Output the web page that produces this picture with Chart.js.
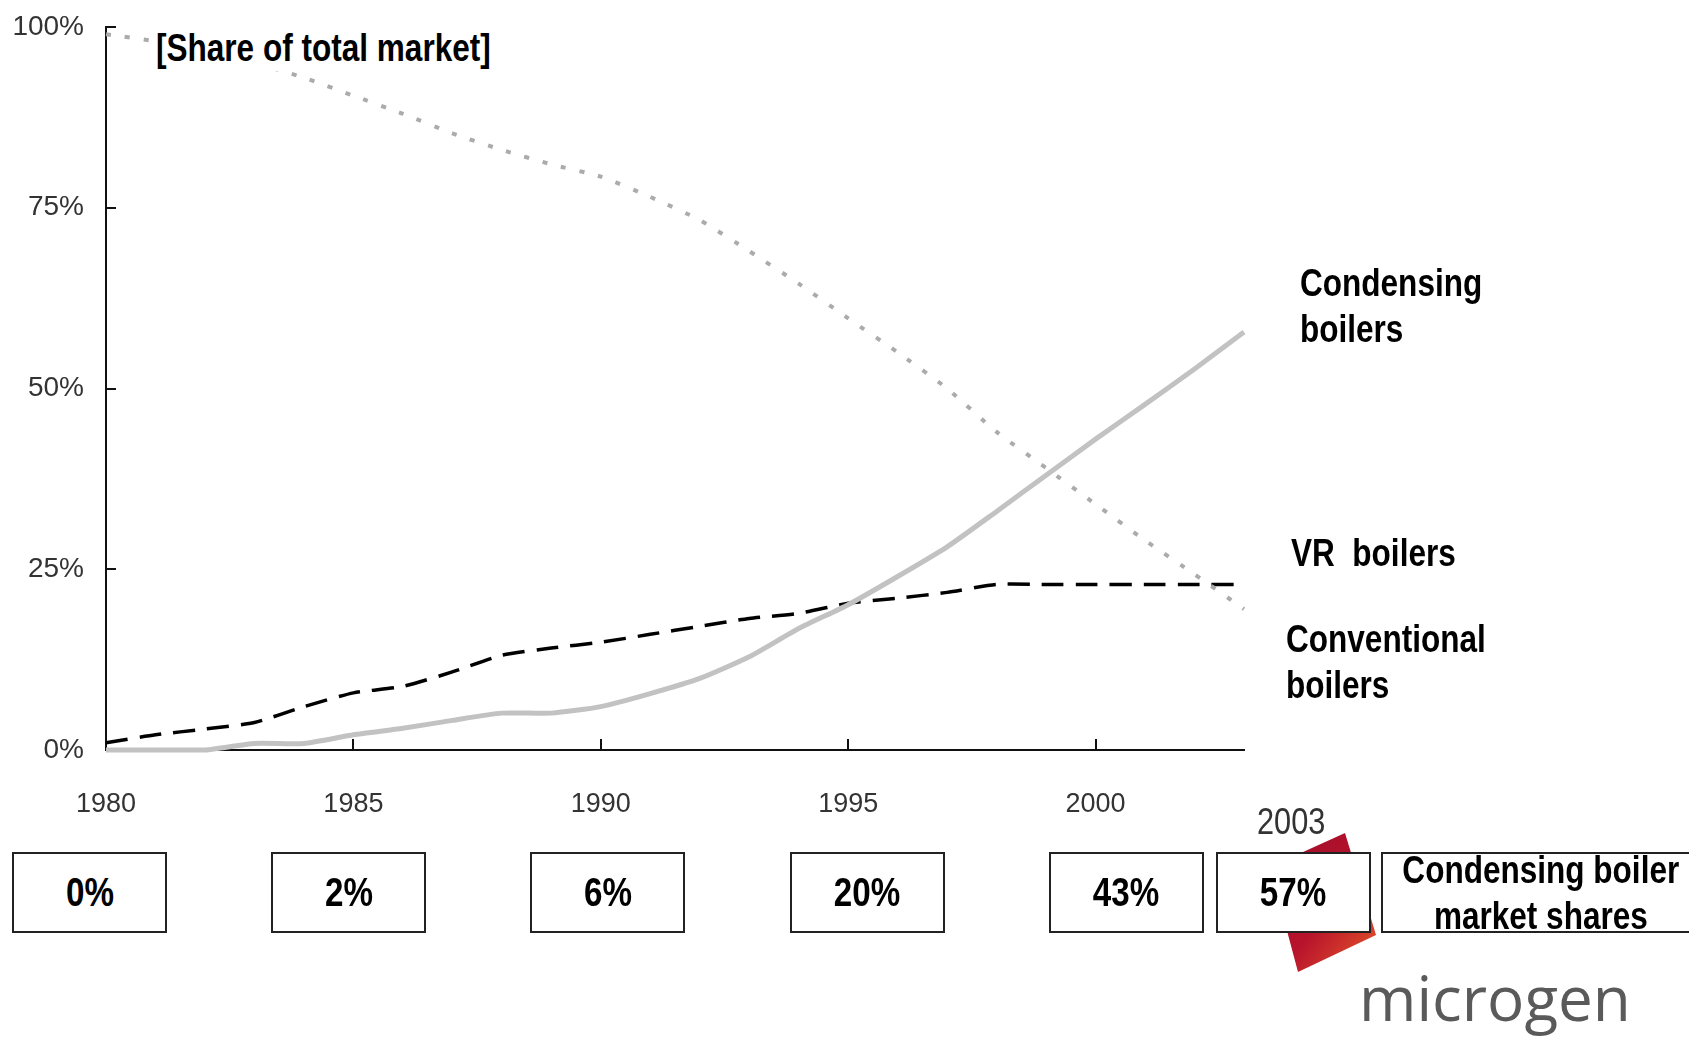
<!DOCTYPE html>
<html>
<head>
<meta charset="utf-8">
<title>Condensing boiler market shares</title>
<script src="https://cdn.jsdelivr.net/npm/chart.js@4.4.1/dist/chart.umd.min.js"></script>
<style>
  html, body { margin: 0; padding: 0; background: #fff; }
  #wrap {
    position: relative; width: 1689px; height: 1041px; overflow: hidden;
    font-family: "Liberation Sans", Arial, sans-serif;
  }
  #chart { position: absolute; left: 0; top: 0; }
  /* no narrow face installed, so squeeze the text instead */
  .nar { display: inline-block; transform: scaleX(0.83); transform-origin: left center; white-space: nowrap; }
  .lbl { position: absolute; font-weight: bold; font-size: 38px; line-height: 46px; color: #000; white-space: nowrap; }
  #title { background: #fff; width: 345px; }
  .box {
    position: absolute; top: 852px; height: 81px; width: 155px; box-sizing: border-box;
    border: 2px solid #222; background: #fff;
    display: flex; align-items: center; justify-content: center;
    font-weight: bold; font-size: 40px; color: #000;
  }
  .box .nar { transform-origin: center center; }
  #boxNote { width: 320px; flex-direction: column; font-size: 38px; line-height: 46px; justify-content: flex-start; align-items: center; }
  #boxNote .nar { margin-top: -7px; margin-bottom: 7px; }
  #logo { position: absolute; left: 0; top: 0; }
  #brand { position: absolute; left: 1359px; top: 966px; font-family: "Open Sans", sans-serif; font-size: 62px; line-height: 62px; color: #5a5a5a; }
  #yearEnd { position: absolute; left: 1241px; top: 800px; width: 100px; text-align: center; font-size: 37px; line-height: 44px; color: #333; }
  #yearEnd .nar { transform-origin: center center; }
</style>
</head>
<body>
<div id="wrap">
  <svg id="logo" width="1689" height="1041">
    <defs>
      <linearGradient id="red" x1="0" y1="0" x2="1" y2="1">
        <stop offset="0" stop-color="#9c0c28"/>
        <stop offset="0.55" stop-color="#b8132c"/>
        <stop offset="0.85" stop-color="#d8432a"/>
        <stop offset="1" stop-color="#b8132c"/>
      </linearGradient>
    </defs>
    <polygon points="1345,833 1376,935 1298,972 1270,867" fill="url(#red)"/>
  </svg>
  <canvas id="chart" width="1689" height="1041"></canvas>
  <div class="lbl" id="title" style="left:150px; top:25px; padding-left:6px;"><span class="nar">[Share of total market]</span></div>
  <div class="lbl" style="left:1300px; top:260px;"><span class="nar">Condensing<br>boilers</span></div>
  <div class="lbl" style="left:1291px; top:530px;"><span class="nar">VR&nbsp; boilers</span></div>
  <div class="lbl" style="left:1286px; top:616px;"><span class="nar">Conventional<br>boilers</span></div>
  <div id="yearEnd"><span class="nar">2003</span></div>
  <div id="boxes"></div>
  <div id="brand">microgen</div>
</div>
<script>
  // years on the x axis
  const years = [1980, 1981, 1982, 1983, 1984, 1985, 1986, 1987, 1988, 1989, 1990, 1991,
                 1992, 1993, 1994, 1995, 1996, 1997, 1998, 1999, 2000, 2001, 2002, 2003];

  // share of total market, %
  const condensing   = [0, 0, 0, 0.9, 0.9, 2.1, 3.0, 4.1, 5.1, 5.1, 6.0, 7.8,
                        9.9, 12.9, 16.8, 20.1, 24.0, 28.1, 33.0, 38.0, 43.0, 47.8, 52.7, 57.8];
  const vrBoilers    = [1.0, 2.1, 2.9, 3.8, 6.0, 7.9, 8.8, 10.8, 13.1, 14.1, 14.9, 16.0,
                        17.1, 18.2, 18.9, 20.3, 21.0, 21.8, 22.9, 22.9, 22.9, 22.9, 22.9, 22.9];
  const conventional = [99, 98, 96.5, 95, 93, 90.5, 88, 85.3, 83, 81, 79.3, 76.5,
                        73.3, 69, 64.5, 59.7, 55, 50, 44, 39, 34, 29, 24.3, 19.5];

  const xTicks = [1980, 1985, 1990, 1995, 2000];
  const yTicks = [0, 25, 50, 75, 100];

  // condensing boiler market share boxes
  const boxShares = ["0%", "2%", "6%", "20%", "43%", "57%"];
  const boxNote = ["Condensing boiler", "market shares"];

  const boxLeft = [12, 271, 530, 790, 1049, 1216]; // layout only
  const boxesEl = document.getElementById("boxes");
  boxShares.forEach((s, i) => {
    const d = document.createElement("div");
    d.className = "box";
    d.style.left = boxLeft[i] + "px";
    d.innerHTML = '<span class="nar">' + s + "</span>";
    boxesEl.appendChild(d);
  });
  const note = document.createElement("div");
  note.className = "box";
  note.id = "boxNote";
  note.style.left = "1381px";
  note.innerHTML = boxNote.map(t => '<span class="nar">' + t + "</span>").join("");
  boxesEl.appendChild(note);

  const FONT = "'Liberation Sans', Arial, sans-serif";

  const pts = arr => years.map((y, i) => ({ x: y, y: arr[i] }));

  /* ticks point inward, like the original */
  const innerTicks = {
    id: "innerTicks",
    afterDraw(chart) {
      const { ctx, scales: { x, y } } = chart;
      ctx.save();
      ctx.strokeStyle = "#111";
      ctx.lineWidth = 2;
      xTicks.slice(1).forEach(v => {
        const px = Math.round(x.getPixelForValue(v));
        ctx.beginPath();
        ctx.moveTo(px, y.bottom);
        ctx.lineTo(px, y.bottom - 11);
        ctx.stroke();
      });
      yTicks.slice(1).forEach(v => {
        const py = Math.round(y.getPixelForValue(v));
        ctx.beginPath();
        ctx.moveTo(x.left, py);
        ctx.lineTo(x.left + 10, py);
        ctx.stroke();
      });
      ctx.restore();
    }
  };

  new Chart(document.getElementById("chart").getContext("2d"), {
    type: "line",
    data: {
      datasets: [
        {
          label: "Conventional boilers",
          data: pts(conventional),
          borderColor: "#ababab",
          borderWidth: 4,
          borderDash: [5, 14],
          pointRadius: 0,
          tension: 0.2,
          clip: false
        },
        {
          label: "Condensing boilers",
          data: pts(condensing),
          borderColor: "#c2c2c2",
          borderWidth: 5,
          pointRadius: 0,
          tension: 0.2,
          clip: false
        },
        {
          label: "VR boilers",
          data: pts(vrBoilers),
          borderColor: "#000",
          borderWidth: 3.5,
          borderDash: [22, 12],
          pointRadius: 0,
          tension: 0.2,
          clip: false
        }
      ]
    },
    options: {
      responsive: false,
      animation: false,
      layout: { padding: { left: 0, top: 27, right: 445, bottom: 221 } },
      plugins: {
        legend: { display: false },
        tooltip: { enabled: false }
      },
      scales: {
        x: {
          type: "linear",
          min: 1980,
          max: 2003,
          afterBuildTicks(scale) { scale.ticks = xTicks.map(v => ({ value: v })); },
          afterFit(scale) { scale.height = 70; scale.paddingLeft = 0; scale.paddingRight = 0; },
          grid: { display: false, drawTicks: false },
          border: { display: true, color: "#111", width: 2 },
          ticks: {
            padding: 38,
            color: "#333",
            font: { family: FONT, size: 27 },
            callback: v => String(v)
          }
        },
        y: {
          min: 0,
          max: 100,
          afterBuildTicks(scale) { scale.ticks = yTicks.map(v => ({ value: v })); },
          afterFit(scale) { scale.width = 106; scale.paddingTop = 0; scale.paddingBottom = 0; },
          grid: { display: false, drawTicks: false },
          border: { display: true, color: "#111", width: 2 },
          ticks: {
            padding: 22,
            color: "#333",
            font: { family: FONT, size: 28 },
            callback: v => v + "%"
          }
        }
      }
    },
    plugins: [innerTicks]
  });
</script>
</body>
</html>
